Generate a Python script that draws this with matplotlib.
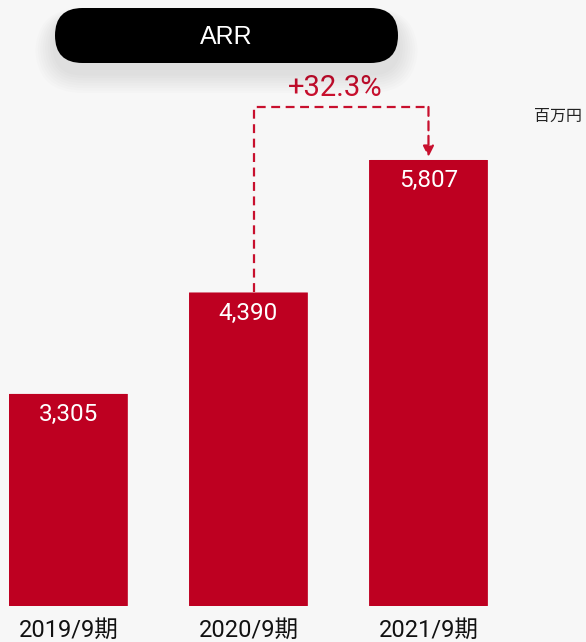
import matplotlib
matplotlib.use("Agg")
import matplotlib.pyplot as plt
from matplotlib.patches import FancyBboxPatch

periods = ["2019/9期", "2020/9期", "2021/9期"]
arr = [3305, 4390, 5807]
growth_label = "+32.3%"
unit_label = "百万円"

RED = "#be0021"
LINE_RED = "#c8102e"
BG = "#f7f7f7"

plt.rcParams["font.family"] = ["Roboto", "Noto Sans CJK JP", "DejaVu Sans"]

fig = plt.figure(figsize=(5.86, 6.42), dpi=100, facecolor=BG)
ax = fig.add_axes([0, 36 / 642, 1, 586 / 642])
ax.set_facecolor(BG)

x = list(range(len(arr)))
for xi, v in zip(x, arr):
    ax.add_patch(FancyBboxPatch((xi - 0.33, 1037), 0.66, v - 1037,
                                boxstyle="round,pad=0,rounding_size=0.012",
                                mutation_aspect=60, facecolor=RED, edgecolor="none",
                                zorder=2))
ax.set_ylim(1037, 7304)
ax.set_xlim(-0.38, 2.875)

for xi, v in zip(x, arr):
    ax.annotate(f"{v:,}", (xi, v), xytext=(0, -15), textcoords="offset points",
                ha="center", va="center", color="white", fontsize=17.5,
                family=["Roboto", "DejaVu Sans"], zorder=4)

ax.set_xticks(x)
ax.set_xticklabels(periods, fontsize=17, family=["Roboto", "Noto Sans CJK JP", "DejaVu Sans"],
                   color="#111111")
ax.tick_params(axis="x", length=0, pad=9)
ax.set_yticks([])
for s in ax.spines.values():
    s.set_visible(False)

# growth bracket
top = 6374
x0 = 1.03
ax.plot([x0, x0, x[2]], [arr[1], top, top], ls=(0, (4, 2.5)), color=LINE_RED, lw=1.6,
        zorder=3)
ax.annotate("", xy=(x[2], 5840), xytext=(x[2], top),
            arrowprops=dict(arrowstyle="-|>", ls=(0, (4, 2.5)), color=LINE_RED, lw=1.6,
                            mutation_scale=16, shrinkA=0, shrinkB=0))
ax.text(1.48, 6580, growth_label, ha="center", va="center", color=LINE_RED, fontsize=21)

fig.text(582 / 586, 1 - 116 / 642, unit_label, ha="right", va="center", fontsize=11.5,
         family=["Noto Sans CJK JP", "DejaVu Sans"], color="#222222")

# title pill with soft shadow
for i in range(8):
    g = 0.025 * (i + 1)
    fig.patches.append(FancyBboxPatch(
        (0.55 - g, 5.79 - 0.1 - g), 3.43 + 2 * g, 0.55 + 1.5 * g,
        boxstyle=f"round,pad=0,rounding_size={0.275 + g}",
        transform=fig.dpi_scale_trans, facecolor="black", edgecolor="none",
        alpha=0.012))
fig.patches.append(FancyBboxPatch((0.55, 5.79), 3.43, 0.55,
                                  boxstyle="round,pad=0,rounding_size=0.275",
                                  transform=fig.dpi_scale_trans, facecolor="black",
                                  edgecolor="none"))
fig.text(2.265 / 5.86, 1 - 37 / 642, "ARR", ha="center", va="center", color="white",
         fontsize=18, family=["Liberation Sans", "DejaVu Sans"])

fig.savefig("out.png", dpi=100, facecolor=BG)
